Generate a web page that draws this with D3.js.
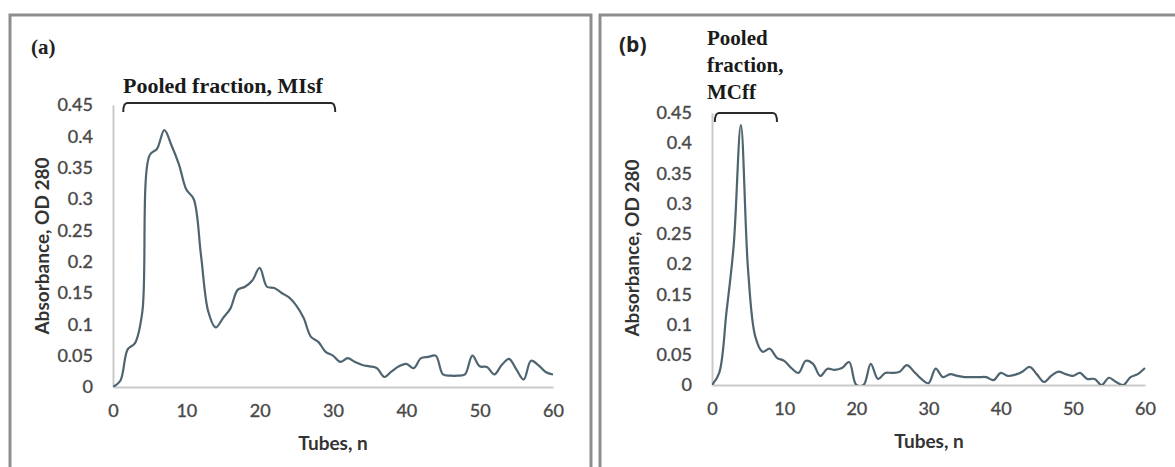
<!DOCTYPE html>
<html>
<head>
<meta charset="utf-8">
<script src="https://cdn.jsdelivr.net/npm/d3@7"></script>
<style>
  body { margin: 0; background: #fff; }
</style>
</head>
<body>
<div id="chart"></div>
<script>
// data
const tubes = [0, 1, 2, 3, 4, 5, 6, 7, 8, 9, 10, 11, 12, 13, 14, 15, 16, 17, 18, 19,
    20, 21, 22, 23, 24, 25, 26, 27, 28, 29, 30, 31, 32, 33, 34, 35, 36, 37, 38, 39,
    40, 41, 42, 43, 44, 45, 46, 47, 48, 49, 50, 51, 52, 53, 54, 55, 56, 57, 58, 59, 60];

const absorbanceA = [0, 0.01, 0.06, 0.07, 0.12, 0.37, 0.38, 0.41, 0.385, 0.355,
    0.315, 0.30, 0.21, 0.12, 0.095, 0.11, 0.125, 0.155, 0.16, 0.17,
    0.19, 0.16, 0.158, 0.15, 0.143, 0.13, 0.11, 0.08, 0.072, 0.056,
    0.05, 0.04, 0.046, 0.04, 0.035, 0.033, 0.03, 0.016, 0.025, 0.033,
    0.037, 0.03, 0.046, 0.048, 0.05, 0.02, 0.018, 0.018, 0.02, 0.05,
    0.033, 0.032, 0.02, 0.035, 0.045, 0.028, 0.012, 0.042, 0.035, 0.024, 0.02];

const absorbanceB = [0, 0.02, 0.12, 0.23, 0.43, 0.19, 0.08, 0.055, 0.06, 0.045,
    0.04, 0.028, 0.02, 0.04, 0.035, 0.015, 0.027, 0.025, 0.028, 0.038,
    0, 0, 0.035, 0.01, 0.02, 0.02, 0.022, 0.033, 0.022, 0.01,
    0.003, 0.027, 0.013, 0.018, 0.015, 0.013, 0.013, 0.013, 0.013, 0.008,
    0.02, 0.015, 0.017, 0.022, 0.03, 0.018, 0.005, 0.015, 0.022, 0.018,
    0.015, 0.02, 0.01, 0.01, 0, 0.012, 0.005, 0, 0.013, 0.018, 0.028];

const xTicks = [0, 10, 20, 30, 40, 50, 60];
const yTicks = [0, 0.05, 0.1, 0.15, 0.2, 0.25, 0.3, 0.35, 0.4, 0.45];

// tube range covered by the bracket of each pooled fraction
const pooledA = [1.4, 30.3];
const pooledB = [0.4, 9];
const pooledTextA = ["Pooled fraction, MIsf"];
const pooledTextB = ["Pooled", "fraction,", "MCff"];

const yTitle = "Absorbance, OD 280";
const xTitle = "Tubes, n";

const svg = d3.select("#chart")
    .append("svg")
    .attr("width", 1175)
    .attr("height", 467);

// panel frames
const frameColor = "#8e8e8e";
svg.append("path")
    .attr("d", "M10,470V15H591V470")
    .attr("fill", "none")
    .attr("stroke", frameColor)
    .attr("stroke-width", 3);
svg.append("path")
    .attr("d", "M600,470V15H1180")
    .attr("fill", "none")
    .attr("stroke", frameColor)
    .attr("stroke-width", 3);

function drawPanel(p) {
    const x = d3.scaleLinear().domain([0, 60]).range([p.left, p.right]);
    const y = d3.scaleLinear().domain([0, 0.45]).range([p.bottom, p.top]);

    const g = svg.append("g");

    // Add X axis
    const xAxis = g.append("g")
        .attr("transform", `translate(0,${p.bottom})`)
        .call(d3.axisBottom(x).tickValues(xTicks).tickSize(0).tickPadding(17));

    // Add Y axis
    const yAxis = g.append("g")
        .attr("transform", `translate(${p.left},0)`)
        .call(d3.axisLeft(y).tickValues(yTicks).tickSize(0).tickPadding(20)
            .tickFormat(d3.format("~g")));

    [xAxis, yAxis].forEach(a => {
        a.select(".domain").attr("stroke", "#c9c9c9").attr("stroke-width", 2);
        a.selectAll("text")
            .attr("font-family", "Lato, 'Open Sans', sans-serif")
            .attr("font-size", 18)
            .attr("fill", "#444")
            .attr("stroke", "#555")
            .attr("stroke-width", 0.4);
    });

    // clip the line to the plot area
    g.append("clipPath").attr("id", "clip" + p.id)
        .append("rect")
        .attr("x", p.left).attr("y", p.top - 10)
        .attr("width", p.right - p.left + 10).attr("height", p.bottom - p.top + 10);

    const data = tubes.map((t, i) => ({ tube: t, value: p.values[i] }));

    // Add the line
    g.append("path")
        .datum(data)
        .attr("clip-path", `url(#clip${p.id})`)
        .attr("fill", "none")
        .attr("stroke", "#4e6470")
        .attr("stroke-width", 2.2)
        .attr("d", d3.line()
            .x(d => x(d.tube))
            .y(d => y(d.value))
            .curve(d3.curveCatmullRom.alpha(0.5)));

    // axis titles
    g.append("text")
        .attr("transform", `translate(${p.yTitleX},${p.yTitleY}) rotate(-90)`)
        .attr("text-anchor", "middle")
        .attr("dy", "0.35em")
        .attr("font-family", "Lato, sans-serif")
        .attr("font-weight", "bold")
        .attr("font-size", 19)
        .attr("fill", "#333")
        .text(yTitle);
    g.append("text")
        .attr("x", p.xTitleX)
        .attr("y", p.xTitleY)
        .attr("text-anchor", "middle")
        .attr("font-family", "Lato, sans-serif")
        .attr("font-weight", "bold")
        .attr("font-size", 19)
        .attr("fill", "#333")
        .text(xTitle);

    // panel letter
    g.append("text")
        .attr("x", p.letterX)
        .attr("y", p.letterY)
        .attr("font-family", p.letterFont)
        .attr("font-weight", "bold")
        .attr("font-size", 21)
        .attr("fill", "#222")
        .text(p.letter);

    // bracket over the pooled tubes
    const bx0 = x(p.pooled[0]), bx1 = x(p.pooled[1]);
    const bt = p.bracketY, bb = p.bracketY + 9;
    g.append("path")
        .attr("d", `M${bx0},${bb}Q${bx0},${bt} ${bx0 + 4},${bt}H${bx1 - 4}Q${bx1},${bt} ${bx1},${bb}`)
        .attr("fill", "none")
        .attr("stroke", "#2a2a2a")
        .attr("stroke-width", 2);

    g.append("text")
        .attr("font-family", "'Liberation Serif', 'Times New Roman', serif")
        .attr("font-weight", "bold")
        .attr("font-size", p.pooledSize)
        .attr("fill", "#1a1a1a")
        .selectAll("tspan")
        .data(p.pooledText)
        .join("tspan")
        .attr("x", p.pooledX)
        .attr("y", (d, i) => p.pooledY + i * 27)
        .text(d => d);
}

drawPanel({
    id: "a", values: absorbanceA, pooled: pooledA, pooledText: pooledTextA,
    left: 113, right: 553, top: 105, bottom: 387,
    yTitleX: 42, yTitleY: 246, xTitleX: 333, xTitleY: 450,
    letter: "(a)", letterX: 31, letterY: 54, letterFont: "'Liberation Serif', serif",
    bracketY: 103, pooledX: 123, pooledY: 93, pooledSize: 22
});

drawPanel({
    id: "b", values: absorbanceB, pooled: pooledB, pooledText: pooledTextB,
    left: 712, right: 1145, top: 113, bottom: 385,
    yTitleX: 632, yTitleY: 248, xTitleX: 929, xTitleY: 448,
    letter: "(b)", letterX: 619, letterY: 52, letterFont: "'Open Sans', sans-serif",
    bracketY: 113, pooledX: 707, pooledY: 45, pooledSize: 21
});
</script>
</body>
</html>
